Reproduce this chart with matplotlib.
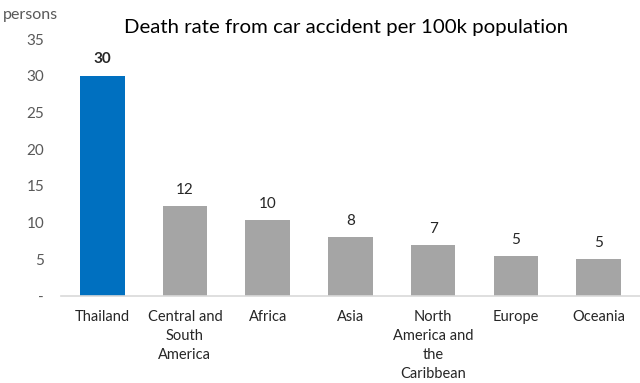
import matplotlib
matplotlib.use("Agg")
import matplotlib.pyplot as plt
import numpy as np

plt.rcParams['font.family'] = ['Lato', 'DejaVu Sans']

# Road deaths per 100k population by region
regions = ["Thailand", "Central and\nSouth\nAmerica", "Africa", "Asia",
           "North\nAmerica and\nthe\nCaribbean", "Europe", "Oceania"]
rates = [30.0, 12.2, 10.3, 8.0, 6.9, 5.4, 5.0]
yticks = [0, 5, 10, 15, 20, 25, 30, 35]
ytick_labels = ["-", "5", "10", "15", "20", "25", "30", "35"]

BLUE = "#0070C0"
GREY = "#A5A5A5"
TEXT = "#595959"

fig = plt.figure(figsize=(6.4, 3.83), dpi=100)
ax = fig.add_axes([0.095, 0.227, 0.905, 0.671])

x = np.arange(len(regions))
colors = [BLUE] + [GREY] * (len(regions) - 1)
bars = ax.bar(x, rates, width=0.54, color=colors)

for i, (b, v) in enumerate(zip(bars, rates)):
    ax.annotate(f"{v:.0f}", (b.get_x() + b.get_width() / 2, v),
                xytext=(0, 7), textcoords="offset points",
                ha="center", va="bottom", fontsize=11, color="#262626",
                fontweight="bold" if i == 0 else "normal")

ax.set_xlim(-0.5, len(regions) - 0.5)
ax.set_ylim(0, 35)
ax.set_yticks(yticks)
ax.set_yticklabels(ytick_labels)
ax.set_xticks(x)
ax.set_xticklabels(regions, linespacing=1.45, va="top")

ax.tick_params(axis="y", length=0, labelsize=11, labelcolor=TEXT, pad=12)
ax.tick_params(axis="x", length=0, labelsize=10.5, labelcolor="#262626", pad=10)

for s in ["top", "right", "left"]:
    ax.spines[s].set_visible(False)
ax.spines["bottom"].set_color("#D9D9D9")
ax.spines["bottom"].set_linewidth(1.2)

fig.text(0.005, 0.962, "persons", fontsize=11.5, color=TEXT, ha="left", va="center")
fig.text(0.54, 0.928, "Death rate from car accident per 100k population",
         fontsize=14.7, color="#000000", ha="center", va="center")

fig.savefig("out.png", dpi=100)
